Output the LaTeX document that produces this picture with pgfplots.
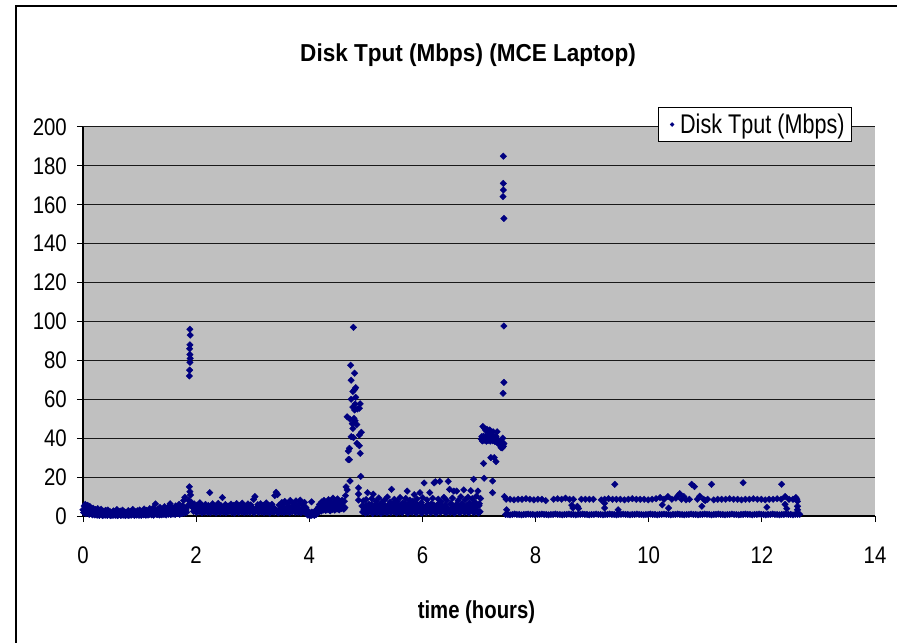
\documentclass[border=0pt]{standalone}
\usepackage{fontspec}
\setmainfont{Liberation Sans}
\newfontfamily\tickfont{Liberation Sans}[FakeStretch=0.85]
\newfontfamily\legfont{Liberation Sans}[FakeStretch=0.8]
\newfontfamily\titfont{Liberation Sans}[FakeStretch=0.92]
\newfontfamily\labfont{Liberation Sans}[FakeStretch=0.83]
\usepackage{pgfplots}
\pgfplotsset{compat=1.18}
\definecolor{navy}{RGB}{0,0,128}
\definecolor{plotgray}{RGB}{192,192,192}
\begin{document}
\begin{tikzpicture}
\useasboundingbox (-83bp,-127bp) rectangle (814bp,516bp);
\draw[line width=1.3bp, black] (-67bp,-127bp) -- (-67bp,510bp) -- (814bp,510bp);
\begin{axis}[
  at={(0,0)}, anchor=south west,
  scale only axis, width=792bp, height=389bp,
  xmin=0, xmax=14, ymin=0, ymax=200,
  xtick={0,2,...,14}, ytick={0,20,...,200},
  axis lines=left, axis line style={-, line width=1.3bp, black},
  axis background/.style={fill=plotgray},
  ymajorgrids, grid style={black!90, line width=1bp},
  tick align=outside, major tick length=6bp,
  tick style={black, line width=1bp},
  /pgf/number format/assume math mode=true,
  ticklabel style={font=\tickfont\fontsize{24bp}{24bp}\selectfont, inner sep=0pt},
  xticklabel style={anchor=north, yshift=-25bp},
  yticklabel style={anchor=east, xshift=-10bp},
  legend style={at={(0.971,1.0514)}, anchor=north east, draw=black, line width=1bp, fill=white,
    font=\legfont\fontsize{27bp}{29bp}\selectfont, inner xsep=5bp, inner ysep=4.5bp},
  legend image code/.code={\draw[#1, mark size=1.4bp] plot coordinates {(0bp,0bp)}; \path[draw=none] (-9bp,0bp) -- (6bp,0bp);},
  legend cell align=left,
]
\addplot[only marks, mark=square*, mark size=2.3bp, color=navy, mark options={rotate=45, line width=0.4bp}] coordinates {
(0.00,3.2) (0.02,5.1) (0.04,6.0) (0.06,4.2) (0.08,5.5) (0.10,2.8) (0.12,4.9) (0.14,3.1) (0.16,2.5) (0.18,4.0)
(0.20,1.8) (0.22,3.3) (0.24,2.1) (0.26,3.8) (0.28,1.5) (0.30,2.7) (0.32,3.5) (0.34,1.9) (0.36,2.4) (0.38,1.2)
(0.40,2.9) (0.42,1.6) (0.44,3.1) (0.46,1.0) (0.48,2.2) (0.50,1.4) (0.52,0.8) (0.54,2.6) (0.56,1.1) (0.58,2.0)
(0.60,3.3) (0.62,1.3) (0.64,0.9) (0.66,2.5) (0.68,1.7) (0.70,3.0) (0.72,1.2) (0.74,2.1) (0.76,0.7) (0.78,1.9)
(0.80,2.8) (0.82,1.4) (0.84,2.3) (0.86,1.0) (0.88,3.4) (0.90,1.6) (0.92,2.2) (0.94,0.9) (0.96,2.7) (0.98,1.5)
(1.00,3.1) (1.02,1.2) (1.04,2.4) (1.06,1.8) (1.08,3.6) (1.10,1.1) (1.12,2.9) (1.14,1.7) (1.16,2.3) (1.18,3.8)
(1.20,1.4) (1.22,2.6) (1.24,4.1) (1.26,1.9) (1.28,6.2) (1.30,2.5) (1.32,3.3) (1.34,1.6) (1.36,4.4) (1.38,2.1)
(1.40,3.0) (1.42,1.3) (1.44,4.8) (1.46,2.7) (1.48,1.8) (1.50,3.6) (1.52,5.0) (1.54,6.3) (1.56,2.2) (1.58,4.1)
(1.60,1.5) (1.62,3.4) (1.64,5.2) (1.66,2.0) (1.68,4.6) (1.70,6.0) (1.72,2.8) (1.74,3.9) (1.76,5.4) (1.78,8.0)
(1.80,9.6) (1.82,3.1) (1.84,4.5)
(0.01,1.8) (0.03,2.5) (0.05,1.2) (0.07,3.0) (0.09,1.5) (0.11,0.9) (0.13,2.2) (0.15,1.1) (0.17,0.6) (0.19,1.3)
(0.21,0.5) (0.23,1.0) (0.25,0.4) (0.27,0.9) (0.29,0.3) (0.31,1.1) (0.33,0.6) (0.35,0.2) (0.37,0.8) (0.39,0.4)
(0.41,0.7) (0.43,0.3) (0.45,1.2) (0.47,0.5) (0.49,0.2) (0.51,0.6) (0.53,0.3) (0.55,0.9) (0.57,0.4) (0.59,0.7)
(0.61,0.2) (0.63,0.5) (0.65,1.0) (0.67,0.3) (0.69,0.8) (0.71,0.4) (0.73,0.6) (0.75,0.2) (0.77,0.9) (0.79,0.5)
(0.81,0.3) (0.83,0.7) (0.85,0.4) (0.87,1.1) (0.89,0.6) (0.91,0.3) (0.93,0.8) (0.95,0.5) (0.97,1.0) (0.99,0.4)
(1.01,0.7) (1.03,0.3) (1.05,1.2) (1.07,0.6) (1.09,0.9) (1.11,0.4) (1.13,1.0) (1.15,0.5) (1.17,0.8) (1.19,1.3)
(1.21,0.6) (1.23,1.1) (1.25,0.4) (1.27,0.9) (1.29,1.5) (1.31,0.7) (1.33,1.2) (1.35,0.5) (1.37,1.0) (1.39,0.6)
(1.41,1.4) (1.43,0.8) (1.45,1.1) (1.47,0.5) (1.49,1.6) (1.51,0.9) (1.53,1.3) (1.55,0.7) (1.57,1.8) (1.59,1.0)
(1.61,1.4) (1.63,0.8) (1.65,2.1) (1.67,1.2) (1.69,1.6) (1.71,0.9) (1.73,2.0) (1.75,1.3) (1.77,2.4) (1.79,1.5)
(1.81,2.6) (1.83,1.9)
(1.86,5.5) (1.87,8.0) (1.88,15.0) (1.89,12.5) (1.90,10.8) (1.88,72) (1.885,75) (1.89,79) (1.895,81) (1.89,83)
(1.885,86) (1.89,88) (1.895,93) (1.89,96) (1.91,7.2) (1.92,5.0)
(1.940,4.5) (1.965,6.2) (1.990,3.8) (2.015,5.6) (2.040,4.1) (2.065,6.8) (2.090,3.5) (2.115,5.2) (2.140,4.6) (2.165,6.0)
(2.190,3.9) (2.215,5.4) (2.240,12.0) (2.265,4.8) (2.290,6.3) (2.315,3.6) (2.340,5.0) (2.365,4.2) (2.390,6.5) (2.415,3.7)
(2.440,5.3) (2.465,9.5) (2.490,4.4) (2.515,5.9) (2.540,3.8) (2.565,5.1) (2.590,4.3) (2.615,6.1) (2.640,3.5) (2.665,5.5)
(2.690,4.0) (2.715,6.4) (2.740,3.9) (2.765,5.2) (2.790,4.6) (2.815,6.6) (2.840,3.7) (2.865,5.0) (2.890,4.2) (2.915,6.2)
(2.940,3.6) (2.965,5.7) (2.990,4.5) (3.015,8.5) (3.040,10.0) (3.065,4.1) (3.090,5.8) (3.115,3.9) (3.140,6.3) (3.165,4.4)
(3.190,5.5) (3.215,3.8) (3.240,6.7) (3.265,4.7) (3.290,5.3) (3.315,3.6) (3.340,6.0) (3.365,4.3) (3.390,10.5) (3.415,12.2)
(3.440,11.0) (3.465,5.6) (3.490,4.0) (3.515,6.9) (3.540,4.8) (3.565,7.5) (3.590,3.7) (3.615,6.2) (3.640,5.0) (3.665,8.0)
(3.690,4.1) (3.715,6.6) (3.740,5.2) (3.765,7.8) (3.790,4.4) (3.815,6.0) (3.840,8.2) (3.865,3.9) (3.890,5.7) (3.915,7.0)
(3.940,4.3)
(1.953,2.4) (1.978,3.1) (2.003,1.8) (2.028,2.9) (2.053,2.2) (2.078,3.4) (2.103,1.6) (2.128,2.7) (2.153,2.0) (2.178,3.2)
(2.203,1.9) (2.228,2.6) (2.253,1.7) (2.278,3.0) (2.303,2.1) (2.328,2.8) (2.353,1.5) (2.378,3.3) (2.403,2.3) (2.428,1.8)
(2.453,2.9) (2.478,2.0) (2.503,3.1) (2.528,1.6) (2.553,2.5) (2.578,2.2) (2.603,3.4) (2.628,1.9) (2.653,2.7) (2.678,1.5)
(2.703,3.0) (2.728,2.3) (2.753,1.8) (2.778,2.9) (2.803,2.1) (2.828,3.2) (2.853,1.7) (2.878,2.6) (2.903,2.0) (2.928,3.3)
(2.953,1.9) (2.978,2.8) (3.003,2.2) (3.028,1.6) (3.053,3.0) (3.078,2.4) (3.103,1.8) (3.128,2.9) (3.153,2.1) (3.178,3.5)
(3.203,1.7) (3.228,2.6) (3.253,2.0) (3.278,3.1) (3.303,1.5) (3.328,2.7) (3.353,2.3) (3.378,1.9) (3.403,3.2) (3.428,2.2)
(3.453,1.6) (3.478,2.8) (3.503,2.0) (3.528,3.4) (3.553,1.8) (3.578,2.5) (3.603,2.1) (3.628,3.0) (3.653,1.7) (3.678,2.6)
(3.703,2.2) (3.728,3.3) (3.753,1.9) (3.778,2.7) (3.803,2.0) (3.828,3.1) (3.853,1.6) (3.878,2.4) (3.903,2.1) (3.928,2.9)
(3.955,1.8) (3.970,0.5) (3.985,2.4) (4.000,0.3) (4.015,1.5) (4.030,0.2) (4.045,2.0) (4.060,0.6) (4.075,1.2) (4.090,0.3)
(4.105,2.6) (4.120,0.8) (4.135,3.5) (4.150,1.5) (4.040,7.3)
(4.16,4.5) (4.18,6.0) (4.20,3.8) (4.22,7.2) (4.24,5.1) (4.26,8.0) (4.28,4.3) (4.30,6.6) (4.32,5.0) (4.34,8.4)
(4.36,4.8) (4.38,7.0) (4.40,5.5) (4.42,9.2) (4.44,4.6) (4.46,7.4) (4.48,5.3) (4.50,8.8) (4.52,4.9) (4.54,6.8)
(4.56,5.6) (4.58,8.1) (4.60,4.7) (4.62,7.6) (4.64,10.5)
(4.17,2.8) (4.19,3.5) (4.21,2.5) (4.23,4.0) (4.25,3.1) (4.27,4.4) (4.29,2.9) (4.31,3.7) (4.33,3.3) (4.35,4.6)
(4.37,2.7) (4.39,4.2) (4.41,3.4) (4.43,5.0) (4.45,3.0) (4.47,4.1) (4.49,3.6) (4.51,4.8) (4.53,3.2) (4.55,4.5)
(4.57,3.8) (4.59,5.2) (4.61,3.5) (4.63,4.3)
(4.78,97) (4.73,77.5) (4.80,73.4) (4.74,69.8) (4.77,64) (4.80,65) (4.82,66) (4.74,60) (4.82,61) (4.81,57.6)
(4.90,57.7) (4.885,55.4) (4.80,54.5) (4.85,55) (4.77,56) (4.67,51) (4.72,49.8) (4.79,50.2) (4.81,49) (4.76,47.5)
(4.84,47) (4.77,45) (4.92,43) (4.885,41.6) (4.74,40.8) (4.78,40.3) (4.84,37.4) (4.885,36.1) (4.90,32.2) (4.69,33.4)
(4.71,34.8) (4.69,29) (4.71,29) (4.72,18) (4.65,15) (4.67,13.4) (4.91,20.4) (4.87,14.5) (4.87,11.3) (4.87,8.2)
(4.930,5.2) (4.955,7.8) (4.980,3.9) (5.005,8.5) (5.030,12.0) (5.055,6.1) (5.080,4.4) (5.105,8.9) (5.130,11.2) (5.155,5.3)
(5.180,7.5) (5.205,4.1) (5.230,9.3) (5.255,5.8) (5.280,7.0) (5.305,3.8) (5.330,8.2) (5.355,5.0) (5.380,9.8) (5.405,4.6)
(5.430,7.2) (5.455,13.7) (5.480,5.9) (5.505,8.6) (5.530,4.3) (5.555,7.7) (5.580,5.4) (5.605,9.5) (5.630,4.0) (5.655,6.8)
(5.680,5.1) (5.705,9.0) (5.730,12.8) (5.755,6.4) (5.780,8.1) (5.805,4.5) (5.830,7.6) (5.855,11.0) (5.880,5.7) (5.905,8.8)
(5.930,4.2) (5.955,12.0) (5.980,6.9) (6.005,9.4) (6.030,17.0) (6.055,5.0) (6.080,8.3) (6.105,4.4) (6.130,12.0) (6.155,6.2)
(6.180,9.1) (6.205,17.0) (6.230,17.6) (6.255,5.5) (6.280,8.7) (6.305,17.8) (6.330,7.3) (6.355,4.6) (6.380,9.6) (6.405,5.8)
(6.430,8.0) (6.455,17.8) (6.480,13.7) (6.505,6.5) (6.530,9.2) (6.555,12.8) (6.580,5.3) (6.605,12.8) (6.630,7.9) (6.655,4.8)
(6.680,9.9) (6.705,6.1) (6.730,13.4) (6.755,8.4) (6.780,5.2) (6.805,9.7) (6.830,6.7) (6.855,13.0) (6.880,8.9) (6.905,18.9)
(6.930,7.1) (6.955,10.2) (6.980,12.8) (7.005,6.3) (7.030,9.0)
(4.943,2.1) (4.968,3.3) (4.993,1.5) (5.018,2.8) (5.043,1.9) (5.068,3.6) (5.093,2.4) (5.118,1.3) (5.143,3.0) (5.168,2.2)
(5.193,1.7) (5.218,3.4) (5.243,2.6) (5.268,1.4) (5.293,2.9) (5.318,2.0) (5.343,3.7) (5.368,1.6) (5.393,2.5) (5.418,3.1)
(5.443,1.8) (5.468,2.7) (5.493,2.3) (5.518,3.5) (5.543,1.5) (5.568,2.8) (5.593,2.0) (5.618,3.2) (5.643,1.7) (5.668,2.6)
(5.693,3.8) (5.718,2.2) (5.743,1.4) (5.768,3.0) (5.793,2.4) (5.818,1.9) (5.843,3.3) (5.868,2.1) (5.893,1.6) (5.918,2.9)
(5.943,3.6) (5.968,2.0) (5.993,1.5) (6.018,2.7) (6.043,3.4) (6.068,1.8) (6.093,2.5) (6.118,3.1) (6.143,1.7) (6.168,2.3)
(6.193,3.5) (6.218,2.0) (6.243,1.4) (6.268,2.8) (6.293,3.2) (6.318,1.9) (6.343,2.6) (6.368,3.7) (6.393,2.1) (6.418,1.6)
(6.443,3.0) (6.468,2.4) (6.493,1.8) (6.518,3.3) (6.543,2.2) (6.568,1.5) (6.593,2.9) (6.618,3.6) (6.643,2.0) (6.668,1.7)
(6.693,3.1) (6.718,2.5) (6.743,1.9) (6.768,3.4) (6.793,2.3) (6.818,1.6) (6.843,2.8) (6.868,3.5) (6.893,2.1) (6.918,1.8)
(6.943,3.0) (6.968,2.6) (6.993,1.5) (7.018,2.2)
(4.95,4.8) (5.00,5.5) (5.05,4.2) (5.10,6.0) (5.15,4.6) (5.20,5.8) (5.25,3.9) (5.30,6.3) (5.35,4.4) (5.40,5.6)
(5.45,4.0) (5.50,6.1) (5.55,4.7) (5.60,5.3) (5.65,3.8) (5.70,6.4) (5.75,4.5) (5.80,5.9) (5.85,4.1) (5.90,6.2)
(5.95,4.9) (6.00,5.4) (6.05,3.7) (6.10,6.0) (6.15,4.3) (6.20,5.7) (6.25,4.0) (6.30,6.5) (6.35,4.8) (6.40,5.2)
(6.45,3.9) (6.50,6.1) (6.55,4.4) (6.60,5.8) (6.65,4.2) (6.70,6.3) (6.75,4.6) (6.80,5.5) (6.85,4.1) (6.90,6.0)
(6.95,4.7) (7.00,5.3)
(7.04,39.5) (7.05,40.8) (7.06,38.6) (7.07,39.9) (7.08,41.0) (7.09,38.9) (7.10,40.2) (7.11,39.1) (7.12,40.9) (7.13,38.4)
(7.14,39.7) (7.15,40.5) (7.16,38.8) (7.17,41.2) (7.18,39.3) (7.19,40.0) (7.20,38.5) (7.21,40.7) (7.22,39.6) (7.23,41.4)
(7.24,38.7) (7.25,40.3) (7.26,39.0) (7.27,40.6) (7.28,38.3) (7.29,39.8) (7.30,40.9) (7.31,38.1) (7.32,39.4) (7.33,37.6)
(7.34,38.9) (7.35,37.0) (7.36,38.2) (7.37,36.5) (7.38,37.8) (7.39,35.2) (7.40,38.0) (7.41,36.8) (7.42,37.5) (7.43,35.9)
(7.44,37.2)
(7.07,46) (7.10,45) (7.14,44.6) (7.19,44.2) (7.25,43.3) (7.32,43.3) (7.12,44) (7.17,43) (7.37,37) (7.41,35)
(7.08,27) (7.21,30) (7.27,30) (7.30,28) (7.09,19.4) (7.24,18) (7.24,12) (7.45,10)
(7.43,185) (7.43,171) (7.43,167.6) (7.425,164.2) (7.44,153) (7.44,97.7) (7.44,68.7) (7.425,63.1) (7.42,40) (7.42,37.6) (7.42,35.6)
(7.47,0.8) (7.51,0.8) (7.55,0.6) (7.59,0.8) (7.63,1.0) (7.67,0.8) (7.71,0.8) (7.75,0.6) (7.79,0.8) (7.83,0.8)
(7.87,1.0) (7.91,0.8) (7.95,0.8) (7.99,0.6) (8.03,0.8) (8.07,0.8) (8.11,1.0) (8.15,0.8) (8.19,0.8) (8.23,0.6)
(8.27,0.8) (8.31,0.8) (8.35,1.0) (8.39,0.8) (8.43,0.8) (8.47,0.6) (8.51,0.8) (8.55,0.8) (8.59,1.0) (8.63,0.8)
(8.67,0.8) (8.71,0.6) (8.75,0.8) (8.79,0.8) (8.83,1.0) (8.87,0.8) (8.91,0.8) (8.95,0.6) (8.99,0.8) (9.03,0.8)
(9.07,1.0) (9.11,0.8) (9.15,0.8) (9.19,0.6) (9.23,0.8) (9.27,0.8) (9.31,1.0) (9.35,0.8) (9.39,0.8) (9.43,0.6)
(9.47,0.8) (9.51,0.8) (9.55,1.0) (9.59,0.8) (9.63,0.8) (9.67,0.6) (9.71,0.8) (9.75,0.8) (9.79,1.0) (9.83,0.8)
(9.87,0.8) (9.91,0.6) (9.95,0.8) (9.99,0.8) (10.03,1.0) (10.07,0.8) (10.11,0.8) (10.15,0.6) (10.19,0.8) (10.23,0.8)
(10.27,1.0) (10.31,0.8) (10.35,0.8) (10.39,0.6) (10.43,0.8) (10.47,0.8) (10.51,1.0) (10.55,0.8) (10.59,0.8) (10.63,0.6)
(10.67,0.8) (10.71,0.8) (10.75,1.0) (10.79,0.8) (10.83,0.8) (10.87,0.6) (10.91,0.8) (10.95,0.8) (10.99,1.0) (11.03,0.8)
(11.07,0.8) (11.11,0.6) (11.15,0.8) (11.19,0.8) (11.23,1.0) (11.27,0.8) (11.31,0.8) (11.35,0.6) (11.39,0.8) (11.43,0.8)
(11.47,1.0) (11.51,0.8) (11.55,0.8) (11.59,0.6) (11.63,0.8) (11.67,0.8) (11.71,1.0) (11.75,0.8) (11.79,0.8) (11.83,0.6)
(11.87,0.8) (11.91,0.8) (11.95,1.0) (11.99,0.8) (12.03,0.8) (12.07,0.6) (12.11,0.8) (12.15,0.8) (12.19,1.0) (12.23,0.8)
(12.27,0.8) (12.31,0.6) (12.35,0.8) (12.39,0.8) (12.43,1.0) (12.47,0.8) (12.51,0.8) (12.55,0.6) (12.59,0.8) (12.63,0.8)
(12.67,0.8)
(7.48,8.6) (7.55,8.6) (7.62,8.3) (7.69,8.6) (7.76,8.6) (7.83,8.9) (7.90,8.6) (7.97,8.3) (8.04,8.6) (8.11,8.6)
(8.18,7.9) (8.32,8.6) (8.39,8.9) (8.46,8.6) (8.53,9.2) (8.60,8.6) (8.64,5.6) (8.66,4.1) (8.74,5.0) (8.76,3.9)
(8.67,8.6) (8.81,8.6) (8.88,8.6) (8.95,8.6) (9.02,8.6) (9.16,8.3) (9.22,8.6) (9.22,6.6) (9.22,4.1) (9.29,8.9)
(9.36,8.6) (9.40,16.3) (9.43,8.6) (9.50,8.6) (9.57,8.3) (9.64,8.6) (9.71,8.9) (9.78,8.6) (9.85,8.6) (9.92,8.6)
(9.99,8.3) (10.06,8.6) (10.13,8.9) (10.20,9.5) (10.24,5.7) (10.27,8.6) (10.34,10.0) (10.41,8.6) (10.48,9.2) (10.52,10.5)
(10.55,11.5) (10.58,8.6) (10.62,10.0) (10.66,8.3) (10.72,8.6) (10.76,16.3) (10.81,15.1) (10.86,8.6) (10.90,10.2) (10.94,5.0)
(10.97,8.6) (11.00,7.9) (11.04,8.6) (11.11,16.3) (11.15,8.3) (11.22,8.6) (11.29,8.6) (11.36,8.6) (11.43,8.9) (11.50,8.6)
(11.57,8.6) (11.64,8.3) (11.67,17.1) (11.71,8.6) (11.78,8.6) (11.85,8.9) (11.92,8.6) (11.99,8.6) (12.06,8.3) (12.09,4.5)
(12.13,8.6) (12.20,8.6) (12.27,8.9) (12.35,16.3) (12.34,8.6) (12.41,10.0) (12.41,6.0) (12.44,3.8) (12.48,8.6) (12.55,8.6)
(12.60,9.5) (12.63,7.5) (12.63,5.0) (12.63,3.2) (12.62,8.6) (7.49,3.2) (9.46,3.2) (10.35,4.1)
};
\addlegendentry{Disk Tput (Mbps)}
\end{axis}
\node[anchor=base, font=\titfont\bfseries\fontsize{24.5bp}{24.5bp}\selectfont] at (385bp,454bp) {Disk Tput (Mbps) (MCE Laptop)};
\node[anchor=base, font=\labfont\bfseries\fontsize{24.5bp}{24.5bp}\selectfont] at (393.5bp,-102.3bp) {time (hours)};
\end{tikzpicture}
\end{document}
